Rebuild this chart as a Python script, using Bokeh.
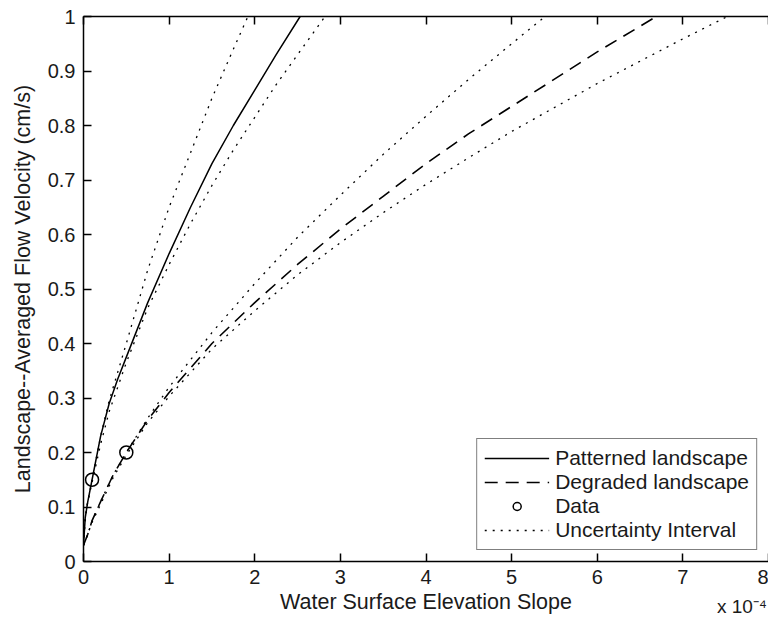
from bokeh.plotting import figure
from bokeh.models import Legend, LegendItem, FixedTicker, LinearAxis, Range1d
from bokeh.embed import file_html
from bokeh.resources import INLINE

# ---- data ----
patterned_x = [0, 0.02, 0.05, 0.1, 0.2, 0.3, 0.4, 0.5, 0.75, 1.0, 1.25, 1.5, 1.75, 2.0, 2.25, 2.53]
patterned_y = [0.03, 0.08, 0.11, 0.15, 0.23, 0.29, 0.335, 0.375, 0.475, 0.565, 0.65, 0.73, 0.80, 0.865, 0.93, 1.0]

patterned_upper_x = [0, 0.02, 0.05, 0.1, 0.2, 0.3, 0.5, 0.75, 1.0, 1.25, 1.5, 1.75, 1.92]
patterned_upper_y = [0.03, 0.08, 0.11, 0.15, 0.23, 0.295, 0.40, 0.535, 0.65, 0.75, 0.85, 0.94, 1.0]

patterned_lower_x = [0, 0.02, 0.05, 0.1, 0.2, 0.3, 0.5, 0.75, 1.0, 1.25, 1.5, 1.75, 2.0, 2.25, 2.5, 2.82]
patterned_lower_y = [0.03, 0.08, 0.11, 0.145, 0.215, 0.275, 0.365, 0.465, 0.545, 0.62, 0.69, 0.755, 0.815, 0.875, 0.93, 1.0]

degraded_x = [0, 0.05, 0.1, 0.2, 0.35, 0.5, 0.75, 1.0, 1.5, 2.0, 2.5, 3.0, 3.5, 4.0, 4.5, 5.0, 5.5, 6.0, 6.69]
degraded_y = [0.03, 0.05, 0.075, 0.11, 0.16, 0.20, 0.26, 0.31, 0.40, 0.475, 0.545, 0.61, 0.67, 0.73, 0.785, 0.835, 0.885, 0.935, 1.0]

degraded_upper_x = [0, 0.05, 0.1, 0.2, 0.35, 0.5, 0.75, 1.0, 1.5, 2.0, 2.5, 3.0, 3.5, 4.0, 4.5, 5.0, 5.39]
degraded_upper_y = [0.03, 0.05, 0.075, 0.11, 0.16, 0.20, 0.263, 0.32, 0.42, 0.51, 0.595, 0.672, 0.747, 0.817, 0.885, 0.95, 1.0]

degraded_lower_x = [0, 0.05, 0.1, 0.2, 0.35, 0.5, 0.75, 1.0, 1.5, 2.0, 2.5, 3.0, 3.5, 4.0, 4.5, 5.0, 5.5, 6.0, 6.5, 7.0, 7.52]
degraded_lower_y = [0.03, 0.05, 0.072, 0.105, 0.155, 0.195, 0.255, 0.303, 0.39, 0.46, 0.526, 0.585, 0.64, 0.692, 0.741, 0.789, 0.833, 0.877, 0.918, 0.959, 1.0]

data_x = [0.1, 0.5]
data_y = [0.15, 0.2]

x_ticks = [0, 1, 2, 3, 4, 5, 6, 7, 8]
y_ticks = [0, 0.1, 0.2, 0.3, 0.4, 0.5, 0.6, 0.7, 0.8, 0.9, 1]
y_tick_labels = ["0", "0.1", "0.2", "0.3", "0.4", "0.5", "0.6", "0.7", "0.8", "0.9", "1"]

x_label = "Water Surface Elevation Slope"
y_label = "Landscape--Averaged Flow Velocity (cm/s)"
x_multiplier = "x 10\u207b\u2074"
x_multiplier_pos = [7.69]
legend_labels = ["Patterned landscape", "Degraded landscape", "Data", "Uncertainty Interval"]

FONT = "Liberation Sans"
TXT = "#1a1a1a"

p = figure(width=768, height=621, x_range=Range1d(0, 8), y_range=Range1d(0, 1),
           output_backend="svg", toolbar_location=None,
           min_border_left=83, min_border_right=0, min_border_top=16, min_border_bottom=60,
           x_axis_label=x_label, y_axis_label=y_label)
p.grid.visible = False
p.outline_line_color = None
p.background_fill_color = "white"
p.border_fill_color = "white"

for ax in p.xaxis:
    ax.ticker = FixedTicker(ticks=x_ticks)
for ax in p.yaxis:
    ax.ticker = FixedTicker(ticks=y_ticks)
    ax.major_label_overrides = {t: l for t, l in zip(y_ticks, y_tick_labels)}

for ax in list(p.xaxis) + list(p.yaxis):
    ax.axis_line_color = "black"
    ax.axis_line_width = 1.5
    ax.major_tick_line_color = "black"
    ax.major_tick_line_width = 1.5
    ax.major_tick_in = 8
    ax.major_tick_out = 0
    ax.minor_tick_line_color = None
    ax.major_label_text_font = FONT
    ax.major_label_text_font_size = "20px"
    ax.major_label_text_color = TXT
    ax.axis_label_text_font = FONT
    ax.axis_label_text_font_size = "21.5px"
    ax.axis_label_text_font_style = "normal"
    ax.axis_label_text_color = TXT
    ax.major_label_standoff = 8

p.xaxis.axis_label_standoff = 3
p.yaxis.axis_label_standoff = 10

# top border with inward ticks (no labels)
top = LinearAxis(ticker=FixedTicker(ticks=x_ticks),
                 major_label_overrides={t: "" for t in x_ticks},
                 major_label_text_font_size="1px", major_label_standoff=0,
                 major_tick_in=8, major_tick_out=0, axis_line_width=1.5,
                 major_tick_line_width=1.5, minor_tick_line_color=None)
p.add_layout(top, "above")

# exponent note under the right end of the x axis
mult = LinearAxis(ticker=FixedTicker(ticks=x_multiplier_pos),
                  major_label_overrides={x_multiplier_pos[0]: x_multiplier},
                  axis_line_color=None, major_tick_line_color=None,
                  minor_tick_line_color=None, major_tick_in=0, major_tick_out=0,
                  major_label_standoff=-21, major_label_text_font=FONT,
                  major_label_text_font_size="19px", major_label_text_color=TXT)
p.add_layout(mult, "below")

# ---- curves ----
r_pat = p.line(patterned_x, patterned_y, line_color="black", line_width=1.5)
r_deg = p.line(degraded_x, degraded_y, line_color="black", line_width=1.6, line_dash="13 8")
r_unc = p.line(patterned_upper_x, patterned_upper_y, line_color="black", line_width=1.3, line_dash="2 6")
p.line(patterned_lower_x, patterned_lower_y, line_color="black", line_width=1.3, line_dash="2 6")
p.line(degraded_upper_x, degraded_upper_y, line_color="black", line_width=1.3, line_dash="2 6")
p.line(degraded_lower_x, degraded_lower_y, line_color="black", line_width=1.3, line_dash="2 6")
r_dat = p.scatter(data_x, data_y, marker="circle", size=13, fill_color=None,
                  line_color="black", line_width=1.5)

legend = Legend(items=[
    LegendItem(label=legend_labels[0], renderers=[r_pat]),
    LegendItem(label=legend_labels[1], renderers=[r_deg]),
    LegendItem(label=legend_labels[2], renderers=[r_dat]),
    LegendItem(label=legend_labels[3], renderers=[r_unc]),
], location="bottom_right")
legend.margin = 11
legend.padding = 7
legend.spacing = 0
legend.glyph_width = 65
legend.glyph_height = 20
legend.label_height = 20
legend.label_standoff = 6
legend.label_text_font = FONT
legend.label_text_font_size = "21px"
legend.label_text_line_height = 1.0
legend.label_text_color = TXT
legend.border_line_color = "black"
legend.border_line_width = 1.2
legend.background_fill_color = "white"
legend.background_fill_alpha = 1.0
p.add_layout(legend)

open("out.html", "w").write(file_html(p, INLINE))
